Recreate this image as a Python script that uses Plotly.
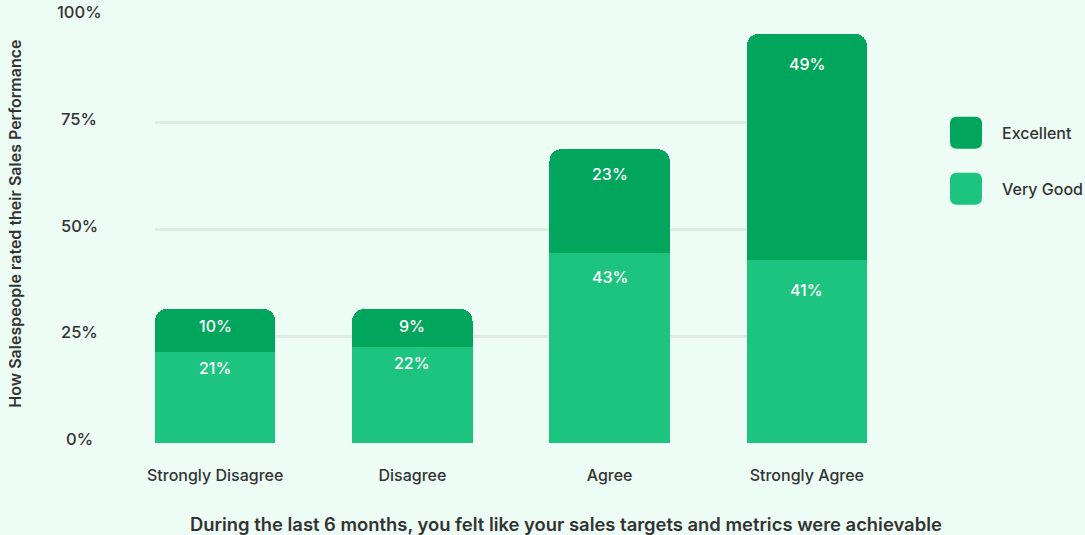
import plotly.graph_objects as go

categories = ["Strongly Disagree", "Disagree", "Agree", "Strongly Agree"]
very_good = [21.4, 22.6, 44.6, 42.8]
excellent = [10.0, 8.8, 24.2, 53.0]
very_good_labels = ["21%", "22%", "43%", "41%"]
excellent_labels = ["10%", "9%", "23%", "49%"]
y_ticks = [0, 25, 50, 75, 100]
y_tick_labels = ["0%", "25%", "50%", "75%", "100%"]
series_names = ["Excellent", "Very Good"]

C_EXC = "#01a55b"
C_VG = "#1cc47f"
BG = "#edfcf4"
TXT = "#333333"
FONT = "Inter"

W, H = 1085, 535
L, R, T, B = 155, 1085 - 867, 16, 535 - 443.5
pw = W - L - R
ph = H - T - B

fig = go.Figure()
fig.add_trace(go.Bar(x=categories, y=very_good, name=series_names[1],
                     marker=dict(color=C_VG, line=dict(width=0)), width=0.61))
fig.add_trace(go.Bar(x=categories, y=excellent, name=series_names[0],
                     marker=dict(color=C_EXC, line=dict(width=0)), width=0.61))

ann = []
# in-bar labels (offset from segment top grows with the column height)
for i, c in enumerate(categories):
    total = very_good[i] + excellent[i]
    off = 10 + 0.21 * total
    lf = dict(family=FONT, size=16, color="white", weight=500)
    ann.append(dict(x=c, y=very_good[i], xref="x", yref="y", text=very_good_labels[i],
                    showarrow=False, yanchor="middle", yshift=-off, font=lf))
    ann.append(dict(x=c, y=total, xref="x", yref="y", text=excellent_labels[i],
                    showarrow=False, yanchor="middle", yshift=-off, font=lf))
# y tick labels centered
for v, t in zip(y_ticks, y_tick_labels):
    ann.append(dict(x=0, y=v, xref="paper", yref="y", text=t, showarrow=False,
                    xanchor="center", yanchor="middle", xshift=79 - L, yshift=4,
                    font=dict(family=FONT, size=16.5, color=TXT, weight=500)))
# y title
ann.append(dict(x=0, y=(443.5 - 224) / ph, xref="paper", yref="paper",
                text="How Salespeople rated their Sales Performance",
                showarrow=False, textangle=-90, xanchor="center", yanchor="middle",
                xshift=15 - L,
                font=dict(family=FONT, size=16, color=TXT, weight=600)))
# legend
shapes = []
legend_colors = [C_EXC, C_VG]
legend_y_px = [133, 189]
r = 7
s = 16
path = (f"M {-s + r},{-s} L {s - r},{-s} Q {s},{-s} {s},{-s + r} L {s},{s - r} Q {s},{s} {s - r},{s} "
        f"L {-s + r},{s} Q {-s},{s} {-s},{s - r} L {-s},{-s + r} Q {-s},{-s} {-s + r},{-s} Z")
for name, col, ypx in zip(series_names, legend_colors, legend_y_px):
    ya = (443.5 - ypx) / ph
    shapes.append(dict(type="path", xref="paper", yref="paper", xsizemode="pixel", ysizemode="pixel",
                       xanchor=(966 - L) / pw, yanchor=ya, path=path,
                       fillcolor=col, line=dict(width=0)))
    ann.append(dict(x=(1000 - L) / pw, y=ya, xref="paper", yref="paper", text=name, showarrow=False,
                    xanchor="left", yanchor="middle",
                    font=dict(family=FONT, size=16, color=TXT, weight=500)))
# x title
ann.append(dict(x=0.5, y=0, xref="paper", yref="paper",
                text="During the last 6 months, you felt like your sales targets and metrics were achievable",
                showarrow=False, xanchor="center", yanchor="middle", xshift=(566 - (L + pw / 2)),
                yshift=-(524 - 443.5),
                font=dict(family=FONT, size=18.4, color=TXT, weight=600)))

fig.update_layout(
    width=W, height=H, barmode="stack", barcornerradius=12,
    paper_bgcolor=BG, plot_bgcolor=BG,
    margin=dict(l=L, r=R, t=T, b=B, pad=0),
    showlegend=False,
    annotations=ann, shapes=shapes,
    xaxis=dict(range=[-0.305, 3.305], showgrid=False, zeroline=False, showline=False,
               ticks="", ticklabelstandoff=21,
               tickfont=dict(family=FONT, size=16, color=TXT, weight=500)),
    yaxis=dict(range=[0, 100], tickvals=[0, 25, 50, 75], showticklabels=False,
               showgrid=True, gridcolor="#e0e9e4", gridwidth=2.5, zeroline=False, showline=False),
)

fig.write_html("out.html", config={"displayModeBar": False},
               post_script="document.body.style.margin='0';document.body.style.overflow='hidden';"
                           "document.body.style.background='" + BG + "';")
